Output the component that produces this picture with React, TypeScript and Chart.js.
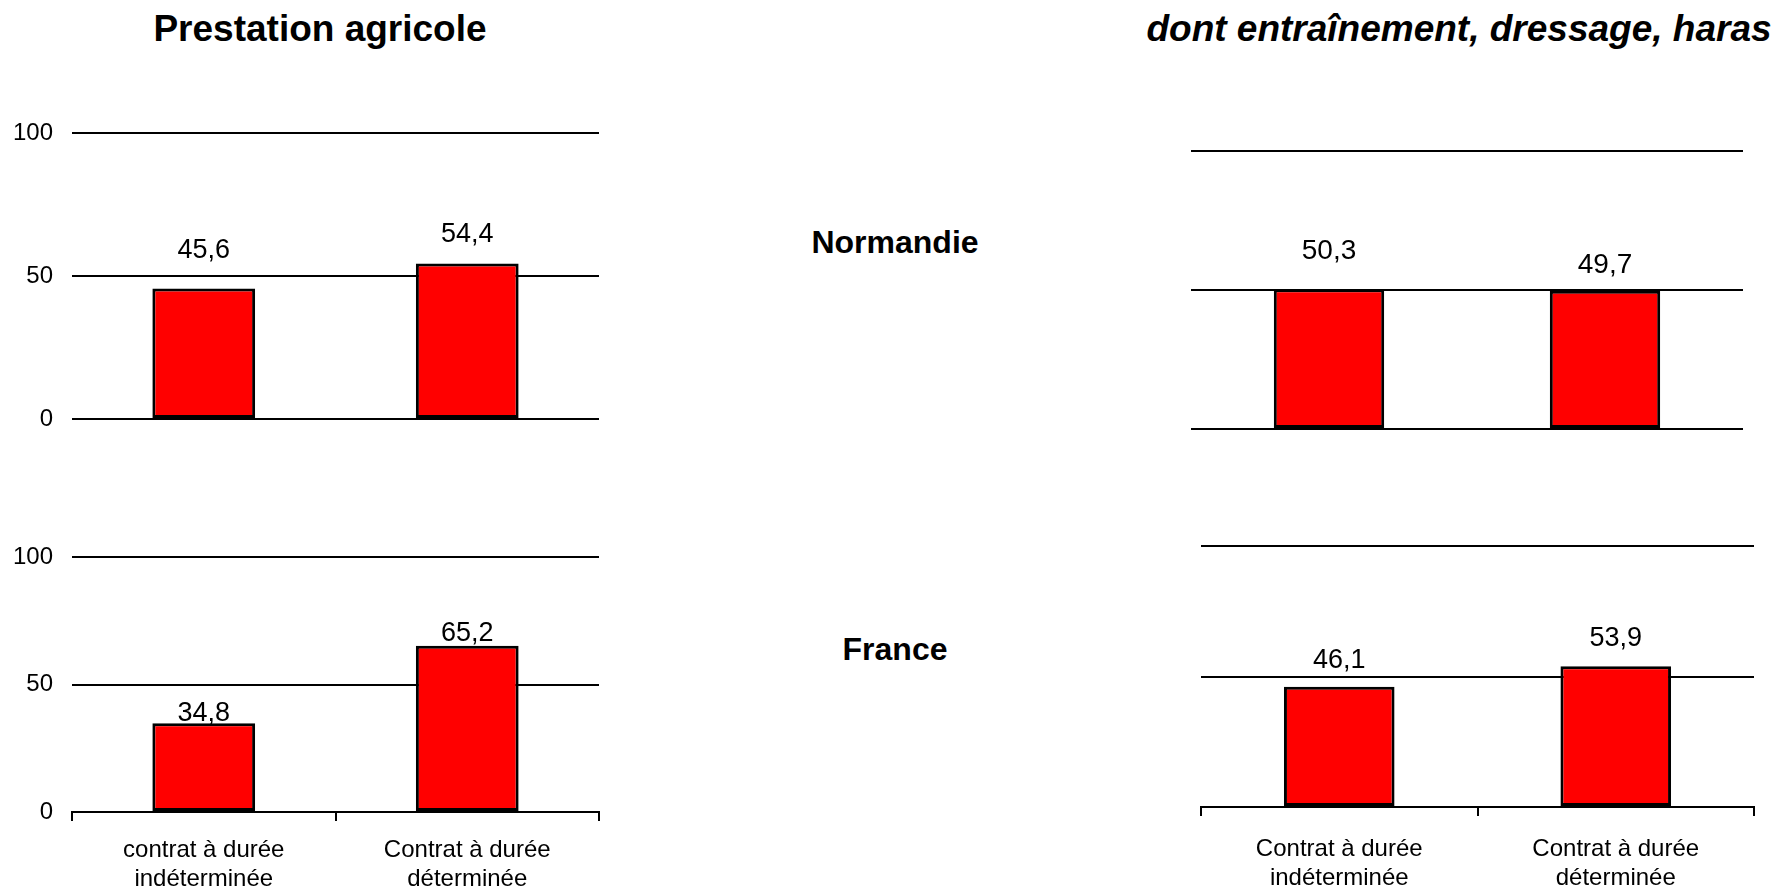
import React, { useEffect, useRef } from "react";
import { Chart, registerables } from "chart.js";
Chart.register(...registerables);

// ---- data ----
const categoriesLeft = [["contrat à durée", "indéterminée"], ["Contrat à durée", "déterminée"]];
const categoriesRight = [["Contrat à durée", "indéterminée"], ["Contrat à durée", "déterminée"]];
const agriNormandie = [45.6, 54.4];
const agriFrance = [34.8, 65.2];
const equiNormandie = [50.3, 49.7];
const equiFrance = [46.1, 53.9];
const yTicks = [0, 50, 100];
const titleLeft = "Prestation agricole";
const titleRight = "dont entraînement, dressage, haras";
const regionNames = ["Normandie", "France"];

const FONT = "'Liberation Sans', Arial, Helvetica, sans-serif";

type Panel = {
  box: { x: number; y: number; w: number; h: number };
  area: { l: number; t: number; r: number; b: number };
  labels: string[][];
  values: number[];
  showY: boolean;
  showX: boolean;
  offsets: number[];
  valueFont: number;
  barPct: number;
  xPad: number;
};

const valueLabelPlugin = {
  id: "valueLabels",
  afterDatasetsDraw(chart: any) {
    const opts = chart.options.plugins.valueLabels;
    const ctx = chart.ctx;
    const meta = chart.getDatasetMeta(0);
    const ds = chart.data.datasets[0];
    ctx.save();
    ctx.fillStyle = "#000";
    ctx.font = `${opts.size}px ${FONT}`;
    ctx.textAlign = "center";
    ctx.textBaseline = "middle";
    meta.data.forEach((el: any, i: number) => {
      const v = ds.data[i] as number;
      const txt = v.toFixed(1).replace(".", ",");
      ctx.fillText(txt, el.x, el.y - opts.offsets[i]);
    });
    ctx.restore();
  },
};

function ChartPanel({ p }: { p: Panel }) {
  const ref = useRef<HTMLCanvasElement>(null);
  useEffect(() => {
    if (!ref.current) return;
    const { box, area } = p;
    const chart = new Chart(ref.current, {
      type: "bar",
      data: {
        labels: p.labels as any,
        datasets: [
          {
            data: p.values,
            backgroundColor: "#FF0000",
            borderColor: "#000000",
            borderWidth: 3,
            borderSkipped: false,
            barPercentage: p.barPct,
            categoryPercentage: 1,
          },
        ],
      },
      options: {
        animation: false,
        responsive: false,
        devicePixelRatio: 1,
        layout: {
          padding: {
            top: area.t - box.y,
            right: box.x + box.w - area.r,
            bottom: p.showX ? 0 : box.y + box.h - area.b,
            left: 0,
          },
        },
        plugins: {
          legend: { display: false },
          tooltip: { enabled: false },
          title: { display: false },
          valueLabels: { offsets: p.offsets, size: p.valueFont },
        } as any,
        scales: {
          x: {
            display: p.showX,
            offset: true,
            grid: {
              display: true,
              offset: true,
              drawOnChartArea: false,
              drawTicks: true,
              tickLength: 9,
              color: "#000",
              lineWidth: 2,
            },
            border: { display: true, color: "#000", width: 2 },
            ticks: {
              color: "#000",
              font: { family: FONT, size: 24, lineHeight: 1.2 },
              padding: p.xPad,
              maxRotation: 0,
              autoSkip: false,
            },
            afterFit: (s: any) => {
              if (p.showX) s.height = box.y + box.h - area.b;
            },
          },
          y: {
            min: 0,
            max: 100,
            afterBuildTicks: (s: any) => {
              s.ticks = yTicks.map((v) => ({ value: v }));
            },
            grid: {
              color: "#000",
              lineWidth: 2,
              drawTicks: true,
              tickLength: 19,
              tickColor: "rgba(0,0,0,0)",
            },
            border: { display: false },
            ticks: {
              display: p.showY,
              color: "#000",
              font: { family: FONT, size: 24 },
              padding: 0,
            },
            afterFit: (s: any) => {
              s.width = area.l - box.x;
            },
          },
        },
      },
      plugins: [valueLabelPlugin],
    });
    return () => chart.destroy();
  }, []);
  return (
    <canvas
      ref={ref}
      width={p.box.w}
      height={p.box.h}
      style={{ position: "absolute", left: p.box.x, top: p.box.y, width: p.box.w, height: p.box.h }}
    />
  );
}

const panels: Panel[] = [
  {
    box: { x: 0, y: 100, w: 620, h: 340 },
    area: { l: 72, t: 133, r: 599, b: 419 },
    labels: categoriesLeft,
    values: agriNormandie,
    showY: true,
    showX: false,
    offsets: [38, 29],
    valueFont: 27,
    barPct: 0.39,
    xPad: 15,
  },
  {
    box: { x: 0, y: 530, w: 620, h: 357 },
    area: { l: 72, t: 557, r: 599, b: 812 },
    labels: categoriesLeft,
    values: agriFrance,
    showY: true,
    showX: true,
    offsets: [10, 12],
    valueFont: 27,
    barPct: 0.39,
    xPad: 15,
  },
  {
    box: { x: 1160, y: 120, w: 620, h: 330 },
    area: { l: 1191, t: 151, r: 1743, b: 429 },
    labels: categoriesRight,
    values: equiNormandie,
    showY: false,
    showX: false,
    offsets: [38, 26],
    valueFont: 28,
    barPct: 0.4,
    xPad: 19,
  },
  {
    box: { x: 1160, y: 520, w: 620, h: 367 },
    area: { l: 1201, t: 546, r: 1754, b: 807 },
    labels: categoriesRight,
    values: equiFrance,
    showY: false,
    showX: true,
    offsets: [26, 28],
    valueFont: 27,
    barPct: 0.4,
    xPad: 19,
  },
];

function TextAt({ text, cx, top, size, italic }: { text: string; cx: number; top: number; size: number; italic?: boolean }) {
  return (
    <div
      style={{
        position: "absolute",
        left: cx,
        top,
        transform: "translateX(-50%)",
        whiteSpace: "nowrap",
        fontFamily: FONT,
        fontWeight: "bold",
        fontStyle: italic ? "italic" : "normal",
        fontSize: size,
        lineHeight: `${size}px`,
        color: "#000",
      }}
    >
      {text}
    </div>
  );
}

export default function App() {
  return (
    <div style={{ position: "absolute", left: 0, top: 0, width: 1780, height: 887, background: "#fff", overflow: "hidden" }}>
      <TextAt text={titleLeft} cx={320} top={10} size={37} />
      <TextAt text={titleRight} cx={1459} top={10} size={37} italic />
      <TextAt text={regionNames[0]} cx={895} top={226} size={32} />
      <TextAt text={regionNames[1]} cx={895} top={633} size={32} />
      {panels.map((p, i) => (
        <ChartPanel key={i} p={p} />
      ))}
    </div>
  );
}
